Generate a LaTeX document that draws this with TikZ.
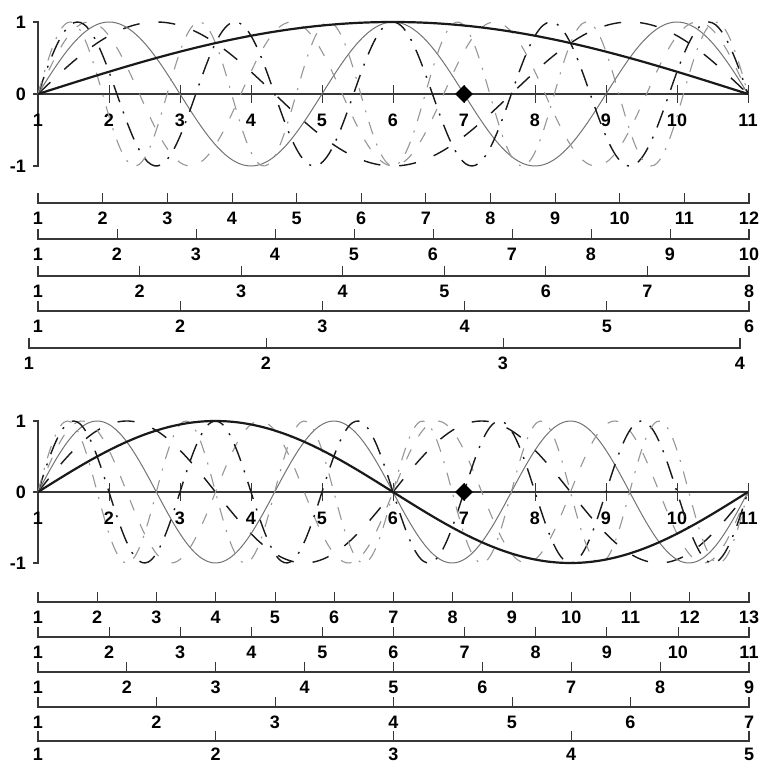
\documentclass[tikz,border=0pt]{standalone}
\usepackage{fontspec}
\setmainfont{Liberation Sans}
\usepackage{tikz}
\usetikzlibrary{shapes.geometric}
\definecolor{modeInk}{RGB}{25,25,25}
\definecolor{modeGrey}{RGB}{115,115,115}
\definecolor{modeLight}{RGB}{150,150,150}
\definecolor{axisInk}{RGB}{55,55,55}

\begin{document}
\begin{tikzpicture}[x=1pt, y=1pt,
    font=\fontsize{18}{21}\selectfont\bfseries,
    num/.style={inner sep=0pt},
    axisline/.style={draw=axisInk, line width=1.1pt},
    rule/.style={draw=axisInk, line width=1.3pt},
    fund/.style={draw=modeInk, line width=2.2pt},
    dashK/.style={draw=modeInk, line width=1.4pt, dash pattern=on 17pt off 19pt},
    solidG/.style={draw=modeGrey, line width=1pt},
    dashG/.style={draw=modeLight, line width=1.1pt, dash pattern=on 11pt off 15pt},
    dotK/.style={draw=modeInk, line width=1.4pt, dash pattern=on 18pt off 10pt on 2pt off 10pt},
    dotG/.style={draw=modeLight, line width=1.1pt, dash pattern=on 13pt off 10pt on 2pt off 10pt},
    pin/.style={diamond, fill=black, inner sep=0pt, minimum width=18pt, minimum height=18pt}]
\useasboundingbox (0,0) rectangle (760,764);

% UPPER PANEL (odd modes)
\draw[axisline] (33,742) -- (38,742) -- (38,598) -- (33,598);
\draw[axisline] (33,670) -- (748,670);
\foreach \k in {1,...,11}{
  \draw[axisline, line width=0.6pt] ({38+71*(\k-1)},661) -- ++(0,18);
  \node[num] (ta\k) at ({38+71*(\k-1)},644) {\k};
}
\node[num, anchor=east] (ty1) at (26,742) {1};
\node[num, anchor=east] (ty0) at (26,670) {0};
\node[num, anchor=east] (tym) at (26,598) {-1};

\foreach \n/\sty in {3/dashK,5/solidG,7/dashG,9/dotK,11/dotG}
   \draw[\sty, domain=0:10, samples=220, smooth]
      plot ({38+71*\x}, {670+72*sin(18*\n*\x)});
\draw[fund, domain=0:10, samples=120, smooth]
   plot ({38+71*\x}, {670+72*sin(18*\x)});
\node[pin] (tpin) at (464,670) {};

% upper rulers
\foreach \m/\y/\a/\b in {12/561/38/749, 10/525/38/749, 8/488/38/749,
                         6/453/38/749, 4/416/29/740}{
  \draw[rule] (\a,\y+10) -- (\a,\y) -- (\b,\y) -- (\b,\y+10);
  \foreach \k in {1,...,\m}{
    \pgfmathsetmacro\px{\a+(\b-\a)*(\k-1)/(\m-1)}
    \draw[rule, line width=0.8pt] (\px,\y) -- ++(0,10);
    \node[num] (tr\m-\k) at (\px,\y-15) {\k};
  }
}

% LOWER PANEL (even modes)
\draw[axisline] (33,343) -- (38,343) -- (38,201) -- (33,201);
\draw[axisline] (33,272) -- (748,272);
\foreach \k in {1,...,11}{
  \draw[axisline, line width=0.6pt] ({38+71*(\k-1)},263) -- ++(0,18);
  \node[num] (ba\k) at ({38+71*(\k-1)},246) {\k};
}
\node[num, anchor=east] (by1) at (26,343) {1};
\node[num, anchor=east] (by0) at (26,272) {0};
\node[num, anchor=east] (bym) at (26,201) {-1};

\foreach \n/\sty in {4/dashK,6/solidG,8/dashG,10/dotK,12/dotG}
   \draw[\sty, domain=0:10, samples=220, smooth]
      plot ({38+71*\x}, {272+71*sin(18*\n*\x)});
\draw[fund, domain=0:10, samples=120, smooth]
   plot ({38+71*\x}, {272+71*sin(36*\x)});
\node[pin] (bpin) at (464,272) {};

% lower rulers
\foreach \m/\y/\d in {13/162/15, 11/127/15, 9/92/15, 7/57/15, 5/23/13}{
  \draw[rule] (38,\y+10) -- (38,\y) -- (749,\y) -- (749,\y+10);
  \foreach \k in {1,...,\m}{
    \pgfmathsetmacro\px{38+711*(\k-1)/(\m-1)}
    \draw[rule, line width=0.8pt] (\px,\y) -- ++(0,10);
    \node[num] (br\m-\k) at (\px,\y-\d) {\k};
  }
}

\end{tikzpicture}
\end{document}
